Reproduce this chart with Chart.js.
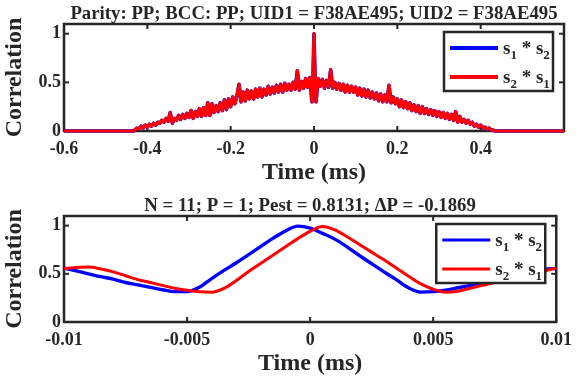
<!DOCTYPE html>
<html><head><meta charset="utf-8">
<script src="https://cdn.jsdelivr.net/npm/chart.js@4.4.1/dist/chart.umd.min.js"></script>
<style>
html,body{margin:0;padding:0;background:#fff;}
#wrap{position:relative;width:580px;height:383px;overflow:hidden;}
canvas{position:absolute;left:0;}
</style></head>
<body><div id="wrap">
<canvas id="c1" width="580" height="190" style="top:0"></canvas>
<canvas id="c2" width="580" height="193" style="top:190px"></canvas>
</div>
<script>
// ---------- DATA ----------
const topTitle = 'Parity: PP; BCC: PP; UID1 = F38AE495; UID2 = F38AE495';
const bottomTitle = 'N = 11; P = 1; Pest = 0.8131; \u0394P = -0.1869';
const xLabel = 'Time (ms)';
const yLabel = 'Correlation';

const timeTop = [-0.6,
 -0.435,-0.43,-0.425,-0.42,-0.415,-0.41,-0.405,-0.4,
 -0.395,-0.39,-0.385,-0.38,-0.375,-0.37,-0.365,-0.36,-0.355,-0.35,
 -0.345,-0.34,-0.335,-0.33,-0.325,-0.32,-0.315,-0.31,-0.305,-0.3,
 -0.295,-0.29,-0.285,-0.28,-0.275,-0.27,-0.265,-0.26,-0.255,-0.25,
 -0.245,-0.24,-0.235,-0.23,-0.225,-0.22,-0.215,-0.21,-0.205,-0.2,
 -0.195,-0.19,-0.185,-0.18,-0.175,-0.17,-0.165,-0.16,-0.155,-0.15,
 -0.145,-0.14,-0.135,-0.13,-0.125,-0.12,-0.115,-0.11,-0.105,-0.1,
 -0.095,-0.09,-0.085,-0.08,-0.075,-0.07,-0.065,-0.06,-0.055,-0.05,
 -0.045,-0.04,-0.035,-0.03,-0.025,-0.02,-0.015,-0.01,-0.005,-0.0025,0,0.0025,0.005,
 0.01,0.015,0.02,0.025,0.03,0.035,0.04,0.045,0.05,
 0.055,0.06,0.065,0.07,0.075,0.08,0.085,0.09,0.095,0.1,
 0.105,0.11,0.115,0.12,0.125,0.13,0.135,0.14,0.145,0.15,
 0.155,0.16,0.165,0.17,0.175,0.18,0.185,0.19,0.195,0.2,
 0.205,0.21,0.215,0.22,0.225,0.23,0.235,0.24,0.245,0.25,
 0.255,0.26,0.265,0.27,0.275,0.28,0.285,0.29,0.295,0.3,
 0.305,0.31,0.315,0.32,0.325,0.33,0.335,0.34,0.345,0.35,
 0.355,0.36,0.365,0.37,0.375,0.38,0.385,0.39,0.395,0.4,
 0.405,0.41,0.415,0.42,0.425,0.43,0.435,
 0.6];

const s12Top = [0,
 0,0.01,0.03,0.02,0.05,0.03,0.06,0.04,
 0.07,0.05,0.08,0.06,0.09,0.08,0.11,0.09,0.13,0.1,
 0.19,0.08,0.13,0.11,0.16,0.12,0.17,0.13,0.18,0.14,
 0.21,0.13,0.2,0.15,0.23,0.15,0.24,0.16,0.29,0.16,
 0.28,0.19,0.26,0.2,0.29,0.21,0.32,0.22,0.33,0.25,
 0.35,0.28,0.36,0.48,0.3,0.4,0.31,0.42,0.33,0.41,
 0.33,0.43,0.35,0.44,0.35,0.43,0.37,0.46,0.38,0.45,
 0.39,0.47,0.4,0.48,0.4,0.49,0.42,0.48,0.42,0.5,
 0.43,0.62,0.42,0.51,0.44,0.54,0.45,0.55,0.3,0.55,1.0,0.55,0.3,
 0.54,0.46,0.53,0.44,0.52,0.45,0.63,0.44,0.5,
 0.43,0.49,0.42,0.48,0.4,0.47,0.4,0.46,0.4,0.45,
 0.37,0.44,0.36,0.43,0.35,0.42,0.34,0.4,0.33,0.39,
 0.31,0.38,0.3,0.37,0.3,0.47,0.29,0.35,0.28,0.33,
 0.25,0.32,0.24,0.3,0.23,0.29,0.21,0.27,0.2,0.26,
 0.18,0.25,0.18,0.23,0.17,0.22,0.16,0.21,0.15,0.2,
 0.14,0.19,0.13,0.18,0.12,0.17,0.11,0.2,0.09,0.15,
 0.09,0.12,0.08,0.11,0.07,0.09,0.05,0.07,0.04,0.06,
 0.03,0.04,0.02,0.03,0.01,0.01,0,
 0];

const s21Top = [0,
 0,0.01,0.03,0.02,0.05,0.03,0.06,0.04,
 0.07,0.05,0.08,0.06,0.09,0.08,0.11,0.09,0.13,0.1,
 0.19,0.08,0.13,0.11,0.16,0.12,0.17,0.13,0.18,0.14,
 0.21,0.13,0.2,0.15,0.23,0.15,0.24,0.16,0.29,0.16,
 0.28,0.19,0.26,0.2,0.29,0.21,0.32,0.22,0.33,0.25,
 0.35,0.28,0.36,0.48,0.3,0.4,0.31,0.42,0.33,0.41,
 0.33,0.43,0.35,0.44,0.35,0.43,0.37,0.46,0.38,0.45,
 0.39,0.47,0.4,0.48,0.4,0.49,0.42,0.48,0.42,0.5,
 0.43,0.62,0.42,0.51,0.44,0.54,0.45,0.55,0.3,0.55,1.0,0.55,0.3,
 0.54,0.46,0.53,0.44,0.52,0.45,0.63,0.44,0.5,
 0.43,0.49,0.42,0.48,0.4,0.47,0.4,0.46,0.4,0.45,
 0.37,0.44,0.36,0.43,0.35,0.42,0.34,0.4,0.33,0.39,
 0.31,0.38,0.3,0.37,0.3,0.47,0.29,0.35,0.28,0.33,
 0.25,0.32,0.24,0.3,0.23,0.29,0.21,0.27,0.2,0.26,
 0.18,0.25,0.18,0.23,0.17,0.22,0.16,0.21,0.15,0.2,
 0.14,0.19,0.13,0.18,0.12,0.17,0.11,0.2,0.09,0.15,
 0.09,0.12,0.08,0.11,0.07,0.09,0.05,0.07,0.04,0.06,
 0.03,0.04,0.02,0.03,0.01,0.01,0,
 0];

const timeBottom = [-0.01,-0.0095,-0.009,-0.0085,-0.008,-0.0075,-0.007,-0.0065,-0.006,-0.0055,
 -0.005,-0.0045,-0.004,-0.0035,-0.003,-0.0025,-0.002,-0.0015,-0.001,-0.0005,
 0,0.0005,0.001,0.0015,0.002,0.0025,0.003,0.0035,0.004,0.0045,
 0.005,0.0055,0.006,0.0065,0.007,0.0075,0.008,0.0085,0.009,0.0095,0.01];

const s12Bottom = [0.56,0.53,0.50,0.47,0.445,0.41,0.385,0.36,0.335,0.315,
 0.315,0.36,0.45,0.535,0.615,0.70,0.785,0.87,0.945,0.995,
 0.975,0.92,0.86,0.78,0.69,0.605,0.52,0.44,0.355,0.31,
 0.315,0.33,0.355,0.38,0.41,0.44,0.47,0.50,0.53,0.55,0.555];

const s21Bottom = [0.555,0.565,0.57,0.55,0.52,0.48,0.44,0.41,0.38,0.35,
 0.33,0.315,0.31,0.35,0.43,0.525,0.61,0.695,0.78,0.865,
 0.94,0.99,0.955,0.885,0.805,0.725,0.645,0.56,0.475,0.395,
 0.34,0.31,0.32,0.35,0.38,0.41,0.445,0.47,0.50,0.53,0.56];

const xTicksTop = [-0.6,-0.4,-0.2,0,0.2,0.4];
const xTickLabelsTop = ['-0.6','-0.4','-0.2','0','0.2','0.4'];
const xTicksBottom = [-0.01,-0.005,0,0.005,0.01];
const xTickLabelsBottom = ['-0.01','-0.005','0','0.005','0.01'];
const yTicks = [0,0.5,1];
const yTickLabels = ['0','0.5','1'];

// ---------- STYLE ----------
const INK = '#262626';
const SERIF = '"Liberation Serif", "Times New Roman", serif';
const BLUE = '#0000ff', RED = '#ff0000';

function pts(xs, ys){ return xs.map((x,i)=>({x:x, y:ys[i]})); }

function makePlugin(title, legendLW){
  return {
    id: 'matlabFrame',
    beforeDatasetsDraw(chart){
      const {ctx, chartArea:a, scales:{x, y}} = chart;
      ctx.save();
      ctx.strokeStyle = INK;
      ctx.lineWidth = 2;
      const tl = 5;
      const ln = (x1,y1,x2,y2)=>{ctx.beginPath();ctx.moveTo(x1,y1);ctx.lineTo(x2,y2);ctx.stroke();};
      x.ticks.forEach(t=>{ const px = x.getPixelForValue(t.value); ln(px,a.bottom,px,a.bottom-tl); ln(px,a.top,px,a.top+tl); });
      y.ticks.forEach(t=>{ const py = y.getPixelForValue(t.value); ln(a.left,py,a.left+tl,py); ln(a.right,py,a.right-tl,py); });
      ctx.lineWidth = 2.5;
      ctx.strokeRect(a.left, a.top, a.right-a.left, a.bottom-a.top);
      ctx.restore();
    },
    afterDraw(chart){
      const {ctx, chartArea:a} = chart;
      ctx.save();
      // title
      ctx.fillStyle = INK;
      ctx.font = 'bold 18.8px ' + SERIF;
      ctx.textAlign = 'center';
      ctx.textBaseline = 'alphabetic';
      ctx.fillText(title, (a.left+a.right)/2, a.top - 5);
      // legend
      const bx = a.right - 120, by = a.top + 8, bw = 109, bh = 59;
      ctx.fillStyle = '#fff';
      ctx.fillRect(bx, by, bw, bh);
      ctx.strokeStyle = INK;
      ctx.lineWidth = 2.5;
      ctx.strokeRect(bx, by, bw, bh);
      const entries = [
        {c: BLUE, a:'1', b:'2', y: by + 16},
        {c: RED,  a:'2', b:'1', y: by + 45}
      ];
      entries.forEach(e=>{
        ctx.strokeStyle = e.c;
        ctx.lineWidth = legendLW;
        ctx.beginPath(); ctx.moveTo(bx+6, e.y); ctx.lineTo(bx+54, e.y); ctx.stroke();
        ctx.fillStyle = INK;
        ctx.textAlign = 'left';
        let cx = bx + 59;
        const big = 'bold 19px ' + SERIF, small = 'bold 13px ' + SERIF;
        ctx.font = big; ctx.fillText('s', cx, e.y+6); cx += ctx.measureText('s').width;
        ctx.font = small; ctx.fillText(e.a, cx, e.y+11); cx += ctx.measureText(e.a).width;
        ctx.font = big; ctx.fillText(' * s', cx, e.y+6); cx += ctx.measureText(' * s').width;
        ctx.font = small; ctx.fillText(e.b, cx, e.y+11);
      });
      ctx.restore();
    }
  };
}

function makeChart(id, opt){
  return new Chart(document.getElementById(id), {
    type: 'line',
    data: {
      datasets: [
        {label:'s1 * s2', data: pts(opt.t, opt.a), borderColor: BLUE, borderWidth: opt.lw + 0.4, borderJoinStyle: 'round', pointRadius: 0, order: 1, tension: opt.tension, cubicInterpolationMode: opt.cim, clip: 4},
        {label:'s2 * s1', data: pts(opt.t, opt.b), borderColor: RED, borderWidth: opt.lw, borderJoinStyle: 'round', pointRadius: 0, order: 0, tension: opt.tension, cubicInterpolationMode: opt.cim, clip: 4}
      ]
    },
    options: {
      responsive: false,
      animation: false,
      events: [],
      layout: {padding: {top: opt.padTop, right: 16, left: 0, bottom: 0}},
      plugins: {legend: {display: false}, title: {display: false}, tooltip: {enabled: false}},
      scales: {
        x: {
          type: 'linear', min: opt.xmin, max: opt.xmax,
          afterBuildTicks: s => { s.ticks = opt.xt.map(v => ({value: v})); },
          ticks: {callback: (v, i) => opt.xl[i], font: {family: SERIF, weight: 'bold', size: 18}, color: INK, padding: 8, maxRotation: 0, autoSkip: false},
          grid: {display: false, drawTicks: false},
          border: {display: false},
          title: {display: true, text: xLabel, font: {family: SERIF, weight: 'bold', size: 24}, color: INK, padding: {top: 0, bottom: opt.xTitlePad}},
          afterFit: s => { s.height = opt.xh; }
        },
        y: {
          type: 'linear', min: 0, max: 1.1,
          afterBuildTicks: s => { s.ticks = yTicks.map(v => ({value: v})); },
          ticks: {callback: (v, i) => yTickLabels[i], font: {family: SERIF, weight: 'bold', size: 18}, color: INK, padding: 3},
          grid: {display: false, drawTicks: false},
          border: {display: false},
          title: {display: true, text: yLabel, font: {family: SERIF, weight: 'bold', size: 24}, color: INK, padding: {top: 0.6, bottom: 0}},
          afterFit: s => { s.width = 64; }
        }
      }
    },
    plugins: [makePlugin(opt.title, opt.legendLW)]
  });
}

makeChart('c1', {t: timeTop, a: s12Top, b: s21Top, xmin: -0.6, xmax: 0.6, xt: xTicksTop, xl: xTickLabelsTop,
  padTop: 24, xh: 59, xTitlePad: 2.6, title: topTitle, lw: 3.2, legendLW: 4, tension: 0, cim: 'default'});
makeChart('c2', {t: timeBottom, a: s12Bottom, b: s21Bottom, xmin: -0.01, xmax: 0.01, xt: xTicksBottom, xl: xTickLabelsBottom,
  padTop: 26, xh: 61, xTitlePad: 4.6, title: bottomTitle, lw: 3, legendLW: 3, tension: 0.4, cim: 'monotone'});
</script>
</body></html>
